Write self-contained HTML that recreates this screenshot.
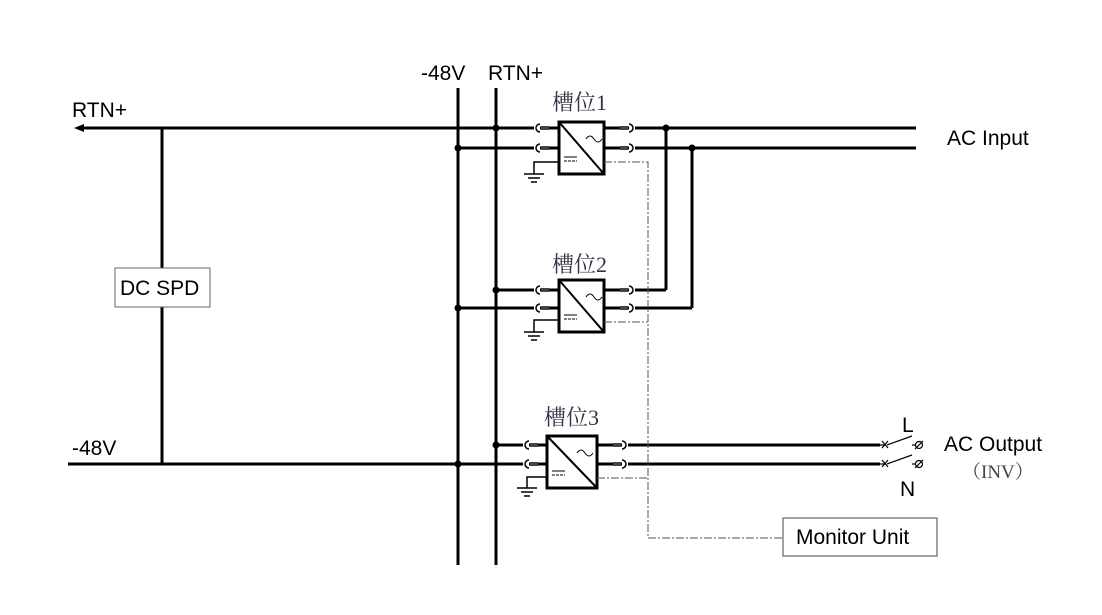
<!DOCTYPE html>
<html><head><meta charset="utf-8"><style>
body{margin:0;background:#fff}
text{font-family:"Liberation Sans",sans-serif;font-size:21px;fill:#000}
.cn{font-family:"Liberation Serif","Noto Serif CJK SC",serif;fill:#334;font-size:22px}
</style></head><body>
<svg width="1102" height="610" viewBox="0 0 1102 610" xmlns="http://www.w3.org/2000/svg">
<defs>
<g id="conL"><rect x="-1" y="-5" width="6" height="10" fill="#fff"/><path d="M5,-4 A4,4 0 0 0 5,4" fill="none" stroke="#000" stroke-width="1.5"/><line x1="6" y1="0" x2="14" y2="0" stroke="#444" stroke-width="4"/></g>
<g id="conR"><rect x="9" y="-5" width="6" height="10" fill="#fff"/><line x1="0" y1="0" x2="8" y2="0" stroke="#444" stroke-width="4"/><path d="M9,-4 A4,4 0 0 1 9,4" fill="none" stroke="#000" stroke-width="1.5"/></g>
<g id="gnd" stroke="#000" stroke-width="1.5"><line x1="-10" y1="0" x2="10" y2="0"/><line x1="-6" y1="4" x2="6" y2="4"/><line x1="-3" y1="8" x2="3" y2="8"/></g>
</defs>
<g stroke="#000" stroke-width="3" fill="none">
<line x1="458" y1="88" x2="458" y2="565"/>
<line x1="496" y1="88" x2="496" y2="565"/>
<line x1="80" y1="128" x2="559" y2="128"/>
<line x1="458" y1="148" x2="559" y2="148"/>
<line x1="604" y1="128" x2="916" y2="128"/>
<line x1="604" y1="148" x2="916" y2="148"/>
<line x1="162" y1="128" x2="162" y2="268"/>
<line x1="162" y1="307" x2="162" y2="464"/>
<line x1="496" y1="290" x2="559" y2="290"/>
<line x1="458" y1="308" x2="559" y2="308"/>
<line x1="604" y1="290" x2="666" y2="290"/>
<line x1="604" y1="308" x2="692" y2="308"/>
<line x1="666" y1="128" x2="666" y2="290"/>
<line x1="692" y1="148" x2="692" y2="308"/>
<line x1="496" y1="445" x2="547" y2="445"/>
<line x1="68" y1="464" x2="547" y2="464"/>
<line x1="597" y1="445" x2="880" y2="445"/>
<line x1="597" y1="464" x2="880" y2="464"/>
</g>
<path d="M74,128 L84,124 L84,132 Z" fill="#000"/>
<g fill="#000">
<circle cx="496" cy="128" r="3.5"/><circle cx="458" cy="148" r="3.5"/>
<circle cx="666" cy="128" r="3.5"/><circle cx="692" cy="148" r="3.5"/>
<circle cx="496" cy="290" r="3.5"/><circle cx="458" cy="308" r="3.5"/>
<circle cx="496" cy="445" r="3.5"/><circle cx="458" cy="464" r="3.5"/>
</g>
<use href="#conL" x="535" y="128"/><use href="#conL" x="535" y="148"/>
<use href="#conR" x="620" y="128"/><use href="#conR" x="620" y="148"/>
<use href="#conL" x="535" y="290"/><use href="#conL" x="535" y="308"/>
<use href="#conR" x="620" y="290"/><use href="#conR" x="620" y="308"/>
<use href="#conL" x="524" y="445"/><use href="#conL" x="524" y="464"/>
<use href="#conR" x="613" y="445"/><use href="#conR" x="613" y="464"/>
<g stroke="#000" fill="#fff">
<g transform="translate(559,122)"><rect x="0" y="0" width="45" height="52" stroke-width="3"/><line x1="0" y1="0" x2="45" y2="52" stroke-width="2"/><path d="M27,17 q4,-6 8,0 q4,6 8,0" fill="none" stroke-width="1"/><line x1="5" y1="35" x2="18" y2="35" stroke-width="1"/><line x1="5" y1="39" x2="18" y2="39" stroke-width="1" stroke-dasharray="3,1"/></g>
<g transform="translate(559,280)"><rect x="0" y="0" width="45" height="52" stroke-width="3"/><line x1="0" y1="0" x2="45" y2="52" stroke-width="2"/><path d="M27,17 q4,-6 8,0 q4,6 8,0" fill="none" stroke-width="1"/><line x1="5" y1="35" x2="18" y2="35" stroke-width="1"/><line x1="5" y1="39" x2="18" y2="39" stroke-width="1" stroke-dasharray="3,1"/></g>
<g transform="translate(547,436)"><rect x="0" y="0" width="50" height="52" stroke-width="3"/><line x1="0" y1="0" x2="50" y2="52" stroke-width="2"/><path d="M30,17 q4,-6 8,0 q4,6 8,0" fill="none" stroke-width="1"/><line x1="5" y1="35" x2="18" y2="35" stroke-width="1"/><line x1="5" y1="39" x2="18" y2="39" stroke-width="1" stroke-dasharray="3,1"/></g>
</g>
<g stroke="#000" stroke-width="1.5" fill="none">
<polyline points="559,162 534,162 534,174"/>
<polyline points="559,320 534,320 534,332"/>
<polyline points="547,477 527,477 527,488"/>
</g>
<use href="#gnd" x="534" y="174"/><use href="#gnd" x="534" y="332"/><use href="#gnd" x="527" y="488"/>
<g stroke="#555" stroke-width="1" fill="none" stroke-dasharray="8,2,2,2">
<polyline points="604,162 648,162 648,538 783,538"/>
<line x1="604" y1="322" x2="648" y2="322"/>
<line x1="597" y1="478" x2="648" y2="478"/>
</g>
<g stroke="#000" stroke-width="1.2" fill="none">
<line x1="880" y1="445" x2="885" y2="445"/><line x1="882" y1="441" x2="888" y2="448"/><line x1="888" y1="441" x2="882" y2="448"/>
<line x1="887" y1="445" x2="912" y2="436"/><line x1="912" y1="445" x2="915" y2="445"/><circle cx="919" cy="445" r="3.5"/><line x1="915" y1="449" x2="923" y2="441"/>
<line x1="880" y1="464" x2="885" y2="464"/><line x1="882" y1="460" x2="888" y2="467"/><line x1="888" y1="460" x2="882" y2="467"/>
<line x1="887" y1="464" x2="912" y2="455"/><line x1="912" y1="464" x2="915" y2="464"/><circle cx="919" cy="464" r="3.5"/><line x1="915" y1="468" x2="923" y2="460"/>
</g>
<rect x="115" y="268" width="95" height="39" fill="#fff" stroke="#666" stroke-width="1"/>
<text x="120" y="295">DC SPD</text>
<rect x="783" y="518" width="154" height="38" fill="#fff" stroke="#444" stroke-width="1"/>
<text x="796" y="544">Monitor Unit</text>
<text x="421" y="80">-48V</text>
<text x="488" y="80">RTN+</text>
<text x="72" y="117">RTN+</text>
<text x="72" y="455">-48V</text>
<text class="cn" x="552" y="110">槽位1</text>
<text class="cn" x="552" y="272">槽位2</text>
<text class="cn" x="544" y="425">槽位3</text>
<text x="947" y="145">AC Input</text>
<text x="902" y="432">L</text>
<text x="900" y="496">N</text>
<text x="944" y="451">AC Output</text>
<text class="cn" x="962" y="478" style="font-size:19px;fill:#444">（INV）</text>
</svg>
</body></html>
